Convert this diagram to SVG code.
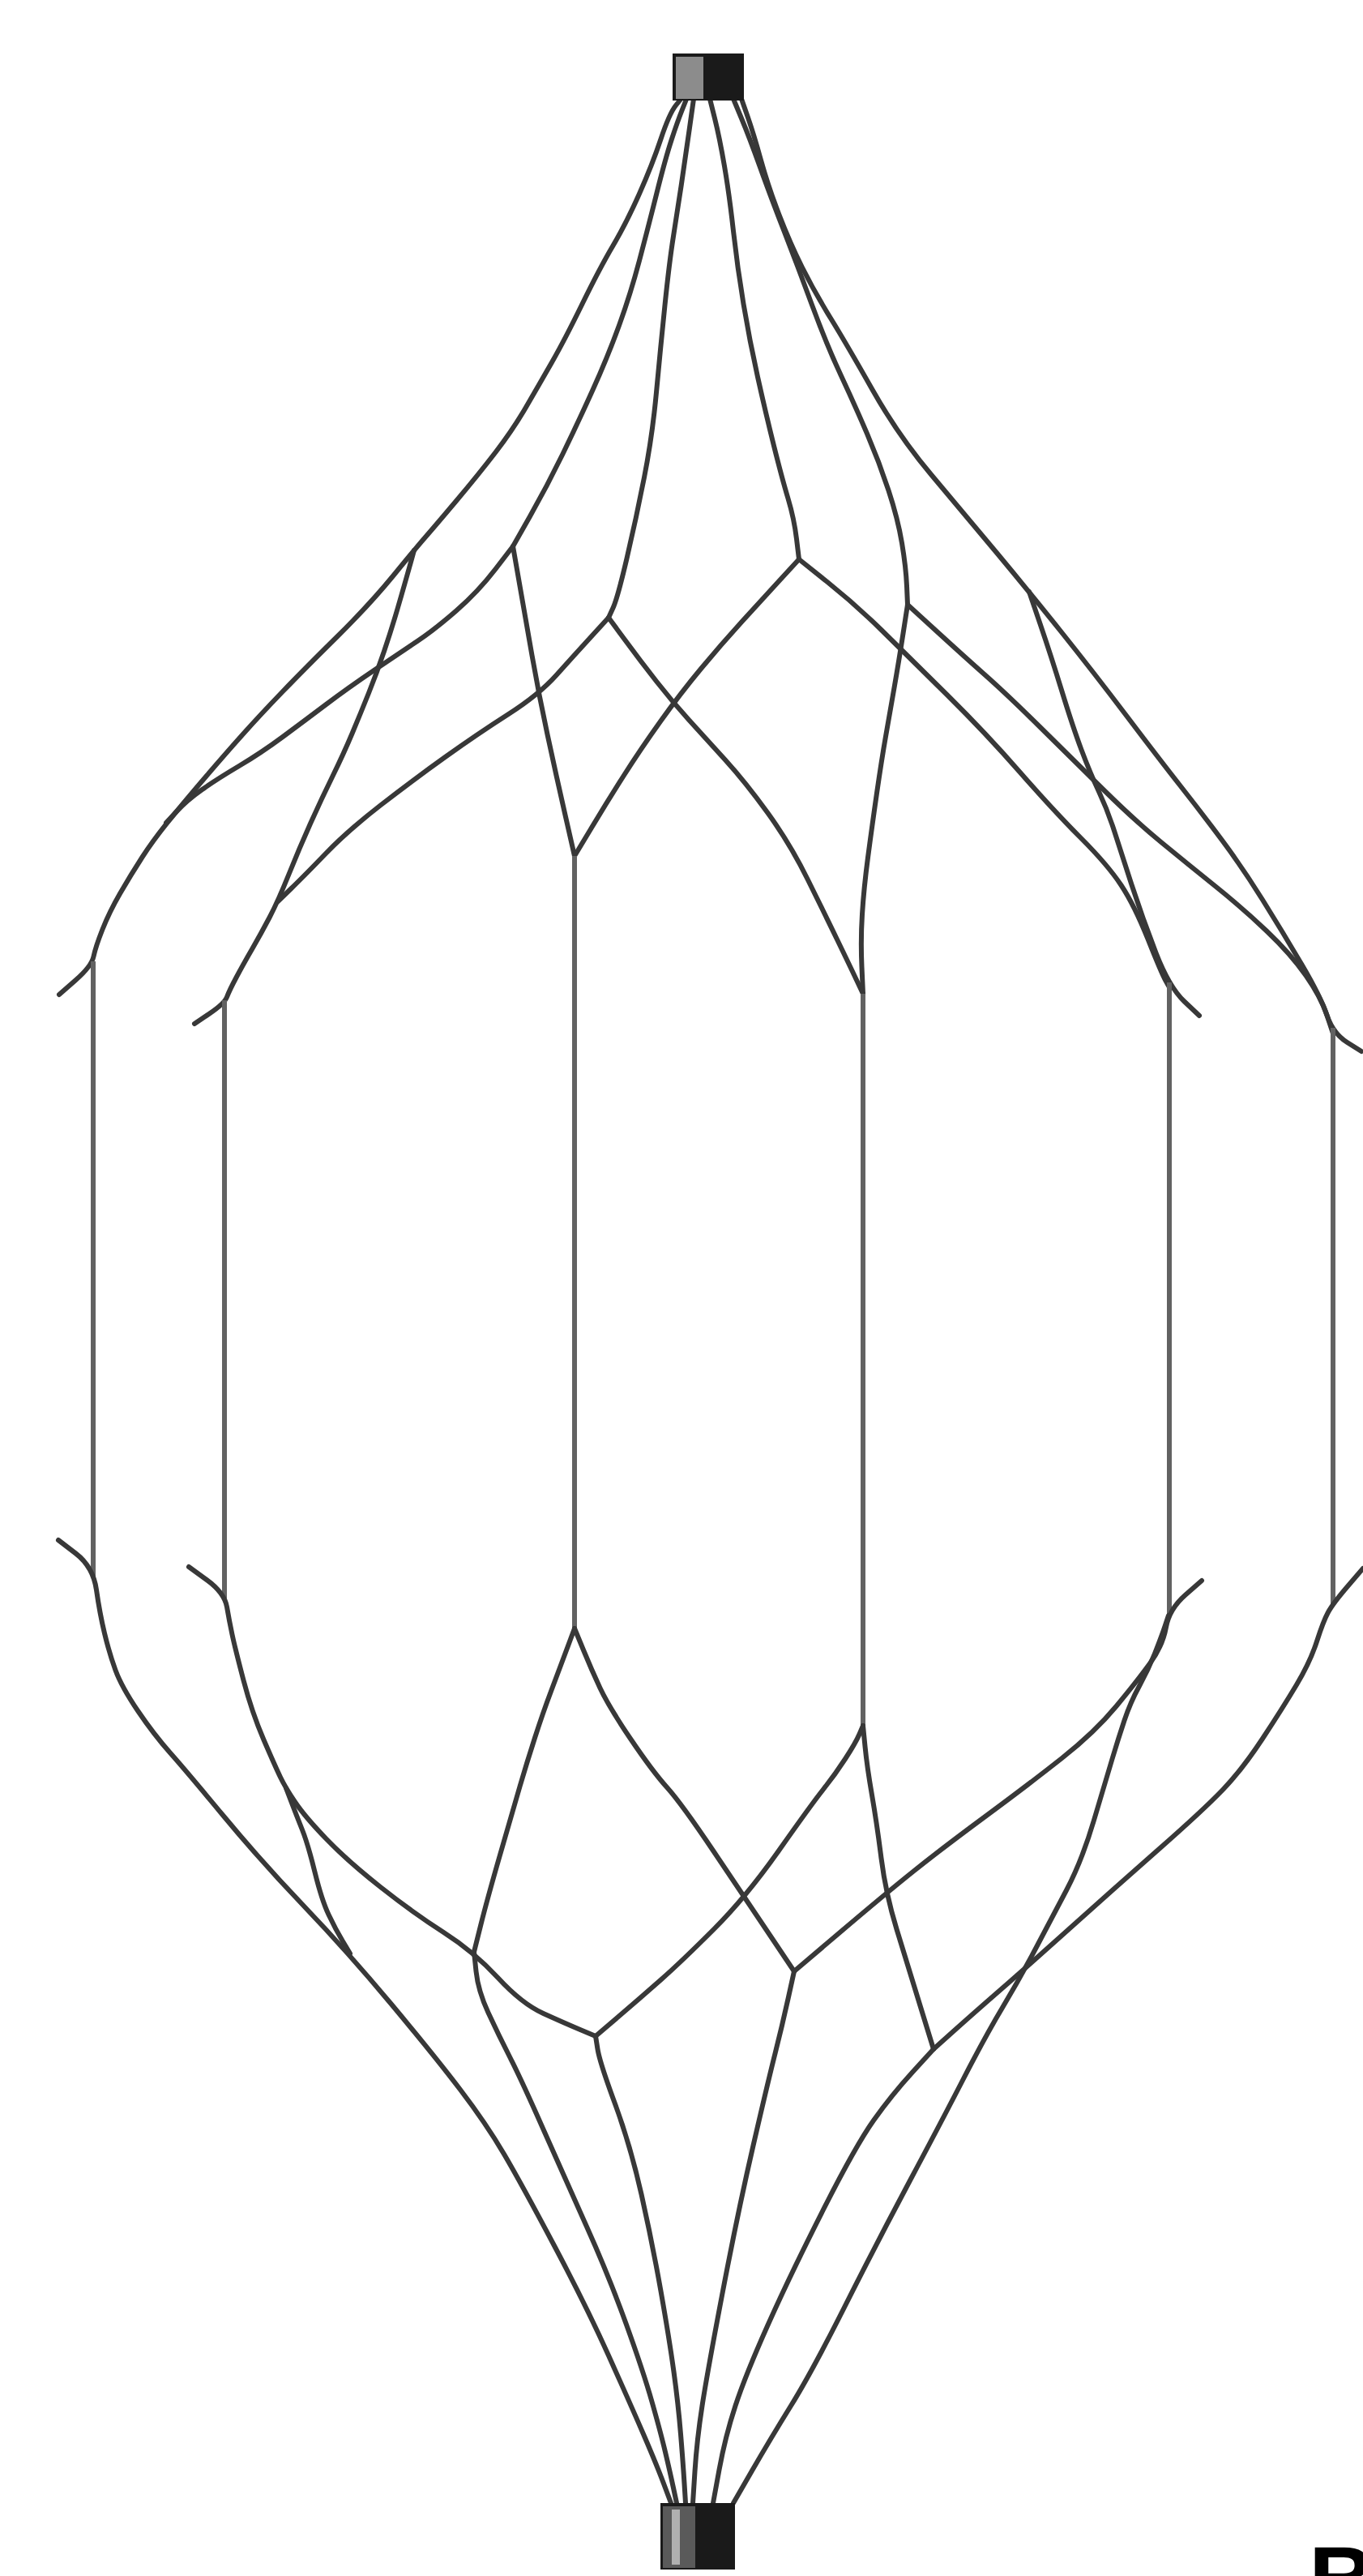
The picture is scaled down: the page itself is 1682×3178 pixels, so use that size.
<svg xmlns="http://www.w3.org/2000/svg" width="1682" height="3178" viewBox="0 0 1682 3178">
<style>
.e{fill:none;stroke:#383838;stroke-width:6;stroke-linejoin:round;stroke-linecap:round}
.v{fill:none;stroke:#626262;stroke-width:6;stroke-linecap:butt}
.lbl{font-family:"Liberation Sans",Arial,sans-serif;font-weight:bold;font-size:115px;fill:#000}
</style>
<rect x="0" y="0" width="1682" height="3178" fill="#fff"/>
<g id="edges">
<path id="e-a" class="e" d="M842,120 L834,130 Q826,140 815.5,171.5 Q805,203 789,239 Q773,275 756.5,303 Q740,331 718.5,375 Q697,419 681,447 Q665,475 649,502.5 Q633,530 611.5,558 Q590,586 563,618 Q536,650 525.5,662 Q515,674 485.5,710 Q456,746 416,785.5 Q376,825 349,853 Q322,881 300.5,905 Q279,929 255,957 Q231,985 210.5,1010 Q190,1035 175.5,1057.5 Q161,1080 148,1102.5 Q135,1125 126.5,1146.5 Q118,1168 115.5,1180 Q113,1192 93,1209.5 L73,1227"/>
<path id="e-j1" class="e" d="M848,120 L842,135 Q836,150 828.5,173 Q821,196 810.5,238 Q800,280 789,321.5 Q778,363 764,401.5 Q750,440 731.5,481 Q713,522 694,561 Q675,600 654,637 L633,674"/>
<path id="e-j1-v1" class="e" d="M633,674 L611.5,702 Q590,730 563,753.5 Q536,777 515,791 Q494,805 461.5,827 Q429,849 402.5,869 Q376,889 349,909 Q322,929 295,945 Q268,961 249.5,974 Q231,987 218,1001 L205,1015"/>
<path id="e-s" class="e" d="M511,679 L505,700.5 Q499,722 491,749.5 Q483,777 474,803.5 Q465,830 455,855 Q445,880 434.5,905 Q424,930 410.5,957.5 Q397,985 383.5,1015 Q370,1045 356.5,1078.5 Q343,1112 332.5,1132 Q322,1152 311,1171 Q300,1190 291.5,1206 Q283,1222 280,1230 Q277,1238 258.5,1250.5 L240,1263"/>
<path id="e-j1-j4" class="e" d="M633,674 L640.5,717 Q648,760 656.5,808.5 Q665,857 675.5,906 Q686,955 697.5,1005.5 L709,1056"/>
<path id="e-j2" class="e" d="M856,122 L850.5,161 Q845,200 840.5,230 Q836,260 831,291.5 Q826,323 820.5,376.5 Q815,430 810,484 Q805,538 795,589 Q785,640 773.5,689 Q762,738 756.5,750 L751,762"/>
<path id="e-j2-v2" class="e" d="M751,762 L729.5,785.5 Q708,809 686.5,833 Q665,857 627.5,881 Q590,905 550,933.5 Q510,962 469.5,993.5 Q429,1025 402.5,1052.5 Q376,1080 359.5,1096 L343,1112"/>
<path id="e-p" class="e" d="M751,762 L770.5,788.5 Q790,815 810,840.5 Q830,866 850,888 Q870,910 895,937.5 Q920,965 947.5,1003 Q975,1041 996.5,1084.5 Q1018,1128 1033,1159 Q1048,1190 1056.5,1208 L1065,1226"/>
<path id="e-k1" class="e" d="M876,122 L882,146 Q888,170 894,205 Q900,240 905,285 Q910,330 917.5,375 Q925,420 935,465 Q945,510 955,550 Q965,590 972.5,615 Q980,640 983,665 L986,690"/>
<path id="e-q" class="e" d="M986,690 L963,715 Q940,740 915,767.5 Q890,795 865,825 Q840,855 815,890 Q790,925 770,956.5 Q750,988 729.5,1022 L709,1056"/>
<path id="e-k1-v5" class="e" d="M986,690 L1021,718 Q1056,746 1088,777.5 Q1120,809 1168.5,857 Q1217,905 1258.5,952.5 Q1300,1000 1333.5,1033.5 Q1367,1067 1383.5,1092 Q1400,1117 1416.5,1158.5 Q1433,1200 1438,1209 L1443,1218"/>
<path id="e-k2" class="e" d="M905,122 L915,146 Q925,170 937.5,205 Q950,240 967.5,285 Q985,330 1002.5,377.5 Q1020,425 1037.5,462.5 Q1055,500 1070,535 Q1085,570 1096.5,605 Q1108,640 1113,670 Q1118,700 1119,723 L1120,746"/>
<path id="e-k2-v4" class="e" d="M1120,746 L1114.5,781.5 Q1109,817 1103.5,848.5 Q1098,880 1093,908.5 Q1088,937 1082,978.5 Q1076,1020 1071,1058 Q1066,1096 1064,1128 Q1062,1160 1063.5,1193 L1065,1226"/>
<path id="e-k2-v6" class="e" d="M1120,746 L1155,778 Q1190,810 1216.5,833.5 Q1243,857 1283.5,897 Q1324,937 1362,974.5 Q1400,1012 1433.5,1039.5 Q1467,1067 1500,1093.5 Q1533,1120 1563,1148.5 Q1593,1177 1611.5,1203.5 Q1630,1230 1637.5,1252.5 L1645,1275"/>
<path id="e-outer-r" class="e" d="M915,122 L922.5,143.5 Q930,165 939,197.5 Q948,230 961.5,265 Q975,300 990,330 Q1005,360 1025,392.5 Q1045,425 1077,481.5 Q1109,538 1149.5,586 Q1190,634 1230,682 Q1270,730 1310,780 Q1350,830 1390.5,883.5 Q1431,937 1457,970 Q1483,1003 1508,1036.5 Q1533,1070 1558,1110 Q1583,1150 1606.5,1190 Q1630,1230 1637.5,1252.5 Q1645,1275 1662.5,1286 L1680,1297"/>
<path id="e-n6" class="e" d="M1270,730 L1283.5,769.5 Q1297,809 1310.5,853 Q1324,897 1334.5,925 Q1345,953 1356,976.5 Q1367,1000 1375,1025 Q1383,1050 1396.5,1091.5 Q1410,1133 1426.5,1175.5 Q1443,1218 1461.5,1235.5 L1480,1253"/>
<line id="v1" class="v" x1="115" y1="1186" x2="115" y2="1946"/>
<line id="v2" class="v" x1="277" y1="1234" x2="277" y2="1972"/>
<line id="v3" class="v" x1="709" y1="1056" x2="709" y2="2009"/>
<line id="v4" class="v" x1="1065" y1="1226" x2="1065" y2="2129"/>
<line id="v5" class="v" x1="1443" y1="1212" x2="1443" y2="1993"/>
<line id="v6" class="v" x1="1645" y1="1268" x2="1645" y2="1980"/>
<path id="e-l" class="e" d="M72,1900 L93.5,1916.5 Q115,1933 119,1961.5 Q123,1990 129,2015 Q135,2040 142.5,2060.5 Q150,2081 170,2110.5 Q190,2140 210,2162.5 Q230,2185 276,2240.5 Q322,2296 375.5,2352 Q429,2408 482.5,2472 Q536,2536 568,2578 Q600,2620 622,2657.5 Q644,2695 684,2770.5 Q724,2846 751,2906 Q778,2966 794,3003 Q810,3040 819,3064 L828,3088"/>
<path id="e-v2b" class="e" d="M233,1933 L255,1949 Q277,1965 280,1982.5 Q283,2000 286.5,2016.5 Q290,2033 300.5,2073 Q311,2113 325.5,2146.5 Q340,2180 346,2192.5 Q352,2205 364,2223 Q376,2241 402.5,2268.5 Q429,2296 469.5,2328 Q510,2360 547.5,2384 Q585,2408 614.5,2440 Q644,2472 670.5,2484 Q697,2496 716,2504 L735,2512"/>
<path id="e-v2br" class="e" d="M353,2206 L359.5,2223 Q366,2240 373,2257.5 Q380,2275 388.5,2309.5 Q397,2344 405.5,2362 Q414,2380 423,2395 L432,2410"/>
<path id="e-v3l" class="e" d="M709,2009 L699.5,2034.5 Q690,2060 680,2086.5 Q670,2113 660,2144 Q650,2175 641.5,2204 Q633,2233 617,2288.5 Q601,2344 593,2376 L585,2408"/>
<path id="e-b0" class="e" d="M585,2408 L587.5,2432 Q590,2456 602.5,2483 Q615,2510 629.5,2538.5 Q644,2567 670.5,2627 Q697,2687 724,2747 Q751,2807 772.5,2866.5 Q794,2926 804.5,2963 Q815,3000 820.5,3023 Q826,3046 830.5,3067 L835,3088"/>
<path id="e-b1" class="e" d="M735,2512 L737.5,2528 Q740,2544 759,2595.5 Q778,2647 791.5,2707 Q805,2767 815.5,2826.5 Q826,2886 831.5,2926 Q837,2966 840,3003 Q843,3040 844.5,3064 L846,3088"/>
<path id="e-v3r" class="e" d="M709,2009 L719.5,2034.5 Q730,2060 740.5,2082.5 Q751,2105 778,2145 Q805,2185 823,2205 Q841,2225 881,2284.5 Q921,2344 950.5,2388 L980,2432"/>
<path id="e-v4l" class="e" d="M1065,2129 L1060.5,2139.5 Q1056,2150 1043,2170 Q1030,2190 1016,2207.5 Q1002,2225 961.5,2282.5 Q921,2340 881,2380 Q841,2420 815.5,2442.5 Q790,2465 762.5,2488.5 L735,2512"/>
<path id="e-v4d" class="e" d="M1065,2129 L1067.5,2154.5 Q1070,2180 1076,2214.5 Q1082,2249 1087.5,2292.5 Q1093,2336 1106.5,2380 Q1120,2424 1136,2476 L1152,2528"/>
<path id="e-b2" class="e" d="M980,2432 L972.5,2466 Q965,2500 956.5,2533.5 Q948,2567 929.5,2647 Q911,2727 892,2826.5 Q873,2926 866.5,2968 Q860,3010 857.5,3049 L855,3088"/>
<path id="e-v5a" class="e" d="M1483,1950 L1463,1967.5 Q1443,1985 1439,2007.5 Q1435,2030 1419.5,2051.5 Q1404,2073 1377.5,2105 Q1351,2137 1310.5,2169 Q1270,2201 1216.5,2240.5 Q1163,2280 1128,2308 Q1093,2336 1036.5,2384 L980,2432"/>
<path id="e-v5b" class="e" d="M1442,1993 L1437.5,2006.5 Q1433,2020 1425,2040 Q1417,2060 1406,2080 Q1395,2100 1387.5,2122.5 Q1380,2145 1372.5,2170 Q1365,2195 1350,2245.5 Q1335,2296 1316,2332 Q1297,2368 1278,2404 Q1259,2440 1237.5,2476 Q1216,2512 1189.5,2563.5 Q1163,2615 1122.5,2691 Q1082,2767 1042,2846.5 Q1002,2926 976,2968 Q950,3010 927.5,3049 L905,3088"/>
<path id="e-v6" class="e" d="M1682,1935 L1663.5,1956.5 Q1645,1978 1639,1989 Q1633,2000 1625,2025 Q1617,2050 1600,2078.5 Q1583,2107 1558,2145 Q1533,2183 1509,2208 Q1485,2233 1431,2280.5 Q1377,2328 1323.5,2376 Q1270,2424 1235,2454.5 Q1200,2485 1176,2506.5 L1152,2528"/>
<path id="e-b4" class="e" d="M1152,2528 L1126,2556.5 Q1100,2585 1078,2616 Q1056,2647 1015.5,2727 Q975,2807 947.5,2868.5 Q920,2930 907.5,2968 Q895,3006 887.5,3047 L880,3088"/>
</g>
<g id="node-source">
<rect x="830" y="66" width="88" height="58" fill="#1a1a1a"/>
<rect x="834" y="70" width="34" height="52" fill="#8c8c8c"/>
</g>
<g id="node-sink">
<rect x="815" y="3088" width="92" height="82" fill="#1a1a1a"/>
<rect x="818" y="3092" width="40" height="76" fill="#5a5a5a"/>
<rect x="829" y="3096" width="10" height="68" fill="#b0b0b0"/>
</g>
<text class="lbl" x="1615" y="3222">B</text>
</svg>
